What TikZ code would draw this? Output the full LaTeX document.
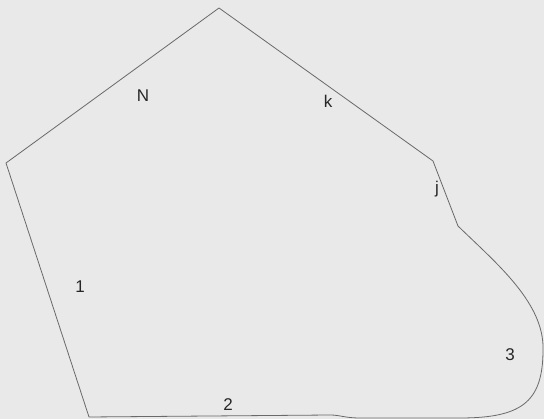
\documentclass[tikz,border=0pt]{standalone}
\usepackage{fontspec}
\setmainfont{Liberation Sans}
\definecolor{paper}{RGB}{233,233,233}
\definecolor{edge}{RGB}{105,105,105}
\tikzset{lab/.style={font=\fontsize{17}{19}\selectfont, text=black!85, inner sep=0pt}}

\begin{document}
\begin{tikzpicture}[x=1pt,y=-1pt]
        \fill [paper] (0,0) rectangle (544,419);
        \useasboundingbox (0,0) rectangle (544,419);
        % corners of the region
        \coordinate (top) at (219,8);
        \coordinate (west) at (6,163);
        \coordinate (sw) at (89,417);
        \coordinate (ne) at (433,161);
        \coordinate (kink) at (458,226);
        \coordinate (east) at (543,345);
        \draw [edge, line width=0.8pt, line join=round]
          (top)--(ne)--(kink)
          .. controls (495,262) and (541,300) .. (east)
          .. controls (544,400) and (525,418) .. (460,418)
          -- (360,418) .. controls (345,418) and (340,415) .. (330,415)
          -- (sw)--(west)--cycle;
        \node [lab] (labN) at (143,96) {N};
        \node [lab] (labk) at (328,101) {k};
        \node [lab] (labj) at (437,189) {j};
        \node [lab] (lab1) at (80,287) {1};
        \node [lab] (lab2) at (228,405) {2};
        \node [lab] (lab3) at (510,355) {3};
      \end{tikzpicture}
\end{document}
